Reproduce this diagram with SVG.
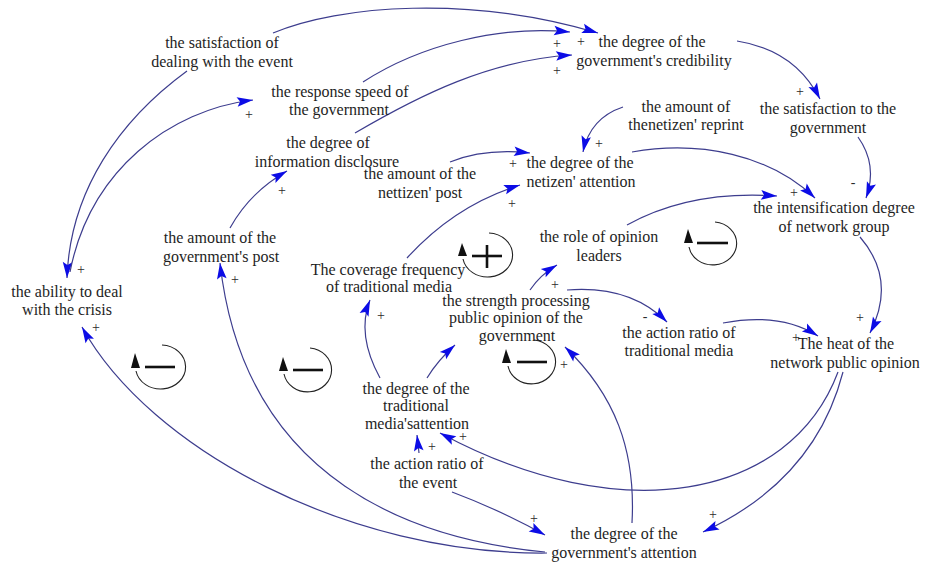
<svg xmlns="http://www.w3.org/2000/svg" width="925" height="562" viewBox="0 0 925 562" font-family="'Liberation Serif', 'Times New Roman', 'DejaVu Serif', serif">
<style>
.t{font-family:'Liberation Serif','Times New Roman','DejaVu Serif',serif;font-size:16px;fill:#1e1e1e;text-anchor:middle}
.p{font-family:'Liberation Serif','Times New Roman','DejaVu Serif',serif;font-size:14px;fill:#2a2a2a;text-anchor:middle}
.c{fill:none;stroke:#3d3d8e;stroke-width:1.2;marker-end:url(#arr)}
.lp{fill:none;stroke:#222;stroke-width:1.1}
.sg{stroke:#111;stroke-width:2.6}
</style>
<defs>
<marker id="arr" viewBox="-17 -6 18 12" refX="0" refY="0" markerWidth="18" markerHeight="12" markerUnits="userSpaceOnUse" orient="auto">
<path d="M0,0 L-16,-4.8 L-13,0 L-16,4.8 Z" fill="#0c0ce6"/>
</marker>
</defs>
<rect width="925" height="562" fill="#fff"/>

<g id="connectors">
<path class="c" d="M273,33 C340,5 470,-5 598,33"/>
<path class="c" d="M187,71 C120,120 70,190 67,278"/>
<path class="c" d="M70,272 C90,170 170,110 253,100"/>
<path class="c" d="M363,82 C420,45 500,25 570,32"/>
<path class="c" d="M355,133 C420,95 490,60 572,55"/>
<path class="c" d="M230,228 Q250,192 287,171"/>
<path class="c" d="M450,162 Q485,148 530,153"/>
<path class="c" d="M623,107 Q590,118 583,152"/>
<path class="c" d="M737,41 Q795,50 820,99"/>
<path class="c" d="M858,137 Q878,165 866,198"/>
<path class="c" d="M632,152 C700,140 770,155 815,198"/>
<path class="c" d="M627,225 Q690,190 777,196"/>
<path class="c" d="M860,237 Q897,280 870,333"/>
<path class="c" d="M530,290 Q540,275 557,265"/>
<path class="c" d="M567,290 Q630,285 667,322"/>
<path class="c" d="M723,323 Q780,312 818,336"/>
<path class="c" d="M843,372 Q815,480 703,532"/>
<path class="c" d="M838,372 C790,500 620,530 440,433"/>
<path class="c" d="M419,453 L417,435"/>
<path class="c" d="M452,492 Q500,510 545,535"/>
<path class="c" d="M547,553 C350,555 150,450 82,327"/>
<path class="c" d="M545,552 C420,540 245,485 220,263"/>
<path class="c" d="M632,523 C636,450 615,395 565,347"/>
<path class="c" d="M380,378 C362,345 362,320 370,300"/>
<path class="c" d="M427,378 Q438,360 455,345"/>
<path class="c" d="M407,258 Q455,205 520,185"/>
</g>

<g id="loop-plus">
<path class="lp" d="M489,233 A25,22 0 1 1 463,259"/>
<path d="M462,243 L458,256 L467,256 Z" fill="#111"/>
<line class="sg" x1="472" y1="256" x2="502" y2="256"/>
<line class="sg" x1="487" y1="245" x2="487" y2="268"/>
</g>
<g id="loop-minus-1">
<path class="lp" d="M715,222 A24,21.5 0 1 1 689,247"/>
<path d="M688,229 L684,243 L693,243 Z" fill="#111"/>
<line class="sg" x1="697" y1="243" x2="728" y2="243"/>
</g>
<g id="loop-minus-2">
<path class="lp" d="M162,345 A25,22 0 1 1 136,371"/>
<path d="M135,353 L131,368 L140,368 Z" fill="#111"/>
<line class="sg" x1="145" y1="367" x2="175" y2="367"/>
</g>
<g id="loop-minus-3">
<path class="lp" d="M310,348 A24,22 0 1 1 284,374"/>
<path d="M283,357 L279,371 L288,371 Z" fill="#111"/>
<line class="sg" x1="293" y1="370" x2="323" y2="370"/>
</g>
<g id="loop-minus-4">
<path class="lp" d="M534,340 A24,22 0 1 1 508,366"/>
<path d="M506,349 L502,363 L511,363 Z" fill="#111"/>
<line class="sg" x1="517" y1="362" x2="547" y2="362"/>
</g>

<g id="n-satisfaction-event"><text class="t" x="222" y="48">the satisfaction of</text><text class="t" x="222" y="67">dealing with the event</text></g>
<g id="n-response-speed"><text class="t" x="340" y="97">the response speed of</text><text class="t" x="339" y="115">the government</text></g>
<g id="n-credibility"><text class="t" x="652" y="47">the degree of the</text><text class="t" x="654" y="66">government's credibility</text></g>
<g id="n-satisfaction-gov"><text class="t" x="828" y="114">the satisfaction to the</text><text class="t" x="828" y="133">government</text></g>
<g id="n-reprint"><text class="t" x="686" y="112">the amount of</text><text class="t" x="686" y="130">thenetizen' reprint</text></g>
<g id="n-info-disclosure"><text class="t" x="328" y="148">the degree of</text><text class="t" x="327" y="167">information disclosure</text></g>
<g id="n-nettizen-post"><text class="t" x="420" y="179">the amount of the</text><text class="t" x="420" y="198">nettizen' post</text></g>
<g id="n-netizen-attention"><text class="t" x="580" y="168">the degree of the</text><text class="t" x="581" y="187">netizen' attention</text></g>
<g id="n-intensification"><text class="t" x="834" y="213">the intensification degree</text><text class="t" x="834" y="232">of network group</text></g>
<g id="n-opinion-leaders"><text class="t" x="599" y="242">the role of opinion</text><text class="t" x="599" y="261">leaders</text></g>
<g id="n-gov-post"><text class="t" x="220" y="243">the amount of the</text><text class="t" x="221" y="262">government's post</text></g>
<g id="n-ability"><text class="t" x="67" y="297">the ability to deal</text><text class="t" x="67" y="315">with the crisis</text></g>
<g id="n-coverage"><text class="t" x="388" y="275">The coverage frequency</text><text class="t" x="389" y="292">of traditional media</text></g>
<g id="n-strength"><text class="t" x="516" y="306">the strength processing</text><text class="t" x="516" y="323">public opinion of the</text><text class="t" x="517" y="341">government</text></g>
<g id="n-action-trad"><text class="t" x="679" y="338">the action ratio of</text><text class="t" x="679" y="356">traditional media</text></g>
<g id="n-heat"><text class="t" x="846" y="349">The heat of the</text><text class="t" x="845" y="368">network public opinion</text></g>
<g id="n-trad-attention"><text class="t" x="416" y="394">the degree of the</text><text class="t" x="416" y="411">traditional</text><text class="t" x="417" y="429">media'sattention</text></g>
<g id="n-action-event"><text class="t" x="427" y="469">the action ratio of</text><text class="t" x="428" y="488">the event</text></g>
<g id="n-gov-attention"><text class="t" x="624" y="539">the degree of the</text><text class="t" x="624" y="558">government's attention</text></g>

<g id="polarities">
<text class="p" x="81" y="274">+</text>
<text class="p" x="96" y="332">+</text>
<text class="p" x="249" y="119">+</text>
<text class="p" x="282" y="195">+</text>
<text class="p" x="235" y="284">+</text>
<text class="p" x="557" y="48">+</text>
<text class="p" x="581" y="46">+</text>
<text class="p" x="557" y="75">+</text>
<text class="p" x="800" y="96">+</text>
<text class="p" x="599" y="148">+</text>
<text class="p" x="513" y="168">+</text>
<text class="p" x="512" y="208">+</text>
<text class="p" x="794" y="197">+</text>
<text class="p" x="853" y="187">-</text>
<text class="p" x="860" y="322">+</text>
<text class="p" x="555" y="289">+</text>
<text class="p" x="645" y="321">-</text>
<text class="p" x="796" y="342">+</text>
<text class="p" x="381" y="320">+</text>
<text class="p" x="564" y="369">+</text>
<text class="p" x="463" y="441">+</text>
<text class="p" x="432" y="451">+</text>
<text class="p" x="534" y="523">+</text>
<text class="p" x="713" y="519">+</text>
</g>
</svg>
